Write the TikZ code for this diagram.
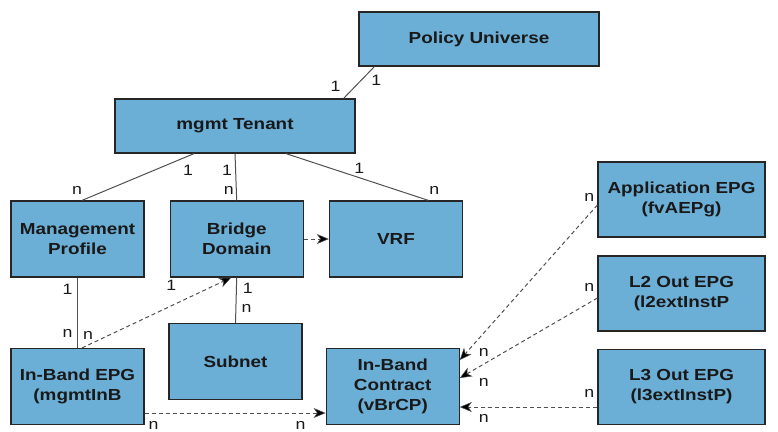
\documentclass[tikz,border=0pt]{standalone}
\usepackage{fontspec}
\setmainfont[FakeStretch=1.18]{Liberation Sans}
\usepackage{xcolor}
\usetikzlibrary{positioning, arrows.meta}
\definecolor{boxblue}{RGB}{107,174,214}
\definecolor{linegray}{RGB}{80,80,80}

\begin{document}
\begin{tikzpicture}[
        x=1pt, y=-1pt,
        node distance=25pt and 25pt,
        every node/.style={font=\fontsize{16}{20}\selectfont\bfseries, text=black!90},
        obj/.style={draw=black!85, line width=1.2pt, fill=boxblue, minimum width=133pt, minimum height=76pt, align=center, inner sep=2pt},
        top/.style={obj, minimum width=240pt, minimum height=54pt},
        epg/.style={obj, minimum width=167pt, minimum height=75pt},
        card/.style={font=\fontsize{15}{16}\selectfont, inner sep=0pt},
        link/.style={draw=linegray, line width=1pt},
        ref/.style={link, dashed, dash pattern=on 4pt off 3pt, -{Stealth[length=12pt,width=10pt,inset=3.5pt,fill=black,line width=0.5pt]}}
    ]
    \useasboundingbox (0,0) rectangle (778,431);

    % Nodes -----------------------------------------------
    \node[top] (univ)   at (479,39)  {Policy Universe};
    \node[top] (tenant) at (235,126) {mgmt Tenant};
    \node[obj] (prof)   at (77.5,239) {Management\\Profile};
    \node[obj, right=of prof] (bd)  {Bridge\\Domain};
    \node[obj, right=of bd]   (vrf) {VRF};
    \node[obj] (inb)    at (77.5,386.5) {In-Band EPG\\(mgmtInB};
    \node[obj] (subnet) at (235.5,361.5) {Subnet};
    \node[obj, right=of subnet, yshift=-25pt, xshift=-2pt] (contract) {In-Band\\Contract\\(vBrCP)};
    \node[epg] (app)    at (681.5,199.5) {Application EPG\\(fvAEPg)};
    \node[epg] (ltwo)   at (681.5,293.5) {L2 Out EPG\\(l2extInstP};
    \node[epg] (lthree) at (681.5,387)   {L3 Out EPG\\(l3extInstP)};

      % containment
      \draw[link] ([xshift=16pt]univ.south west) -- ([xshift=-12pt]tenant.north east)
          node[card, at start, shift={(2,14)}] {1}
          node[card, at end, shift={(-8,-12)}] {1};
      \draw[link] ([xshift=-41pt]tenant.south) -- ([xshift=4.5pt]prof.north)
          node[card, at start, shift={(-6,17)}] {1}
          node[card, at end, shift={(-5,-10)}] {n};
      \draw[link] (tenant.south) -- (bd.north)
          node[card, at start, shift={(-8,17)}] {1}
          node[card, at end, shift={(-8,-10)}] {n};
      \draw[link] ([xshift=51pt]tenant.south) -- ([xshift=32.5pt]vrf.north)
          node[card, pos=0.5, shift={(2,-9)}] {1}
          node[card, at end, shift={(6,-10)}] {n};
      \draw[link] (prof.south) -- (inb.north)
          node[card, at start, shift={(-10,12)}] {1}
          node[card, at end, shift={(-10,-14)}] {n};
      \draw[link] (bd.south) -- (subnet.north)
          node[card, at start, shift={(11,11)}] {1}
          node[card, at end, shift={(11,-14)}] {n};

      % references
      \draw[ref] ([xshift=4.5pt]inb.north) -- ([xshift=-5.5pt]bd.south)
          node[card, at start, shift={(6,-12)}] {n}
          node[card, at end, shift={(-60,8)}] {1};
      \draw[ref] (bd.east) -- (vrf.west);
      \draw[ref] ([yshift=-26.5pt]inb.east) -- ([yshift=-26.5pt]contract.west)
          node[card, at start, shift={(9,12)}] {n}
          node[card, at end, shift={(-25,12)}] {n};
      \draw[ref] ([yshift=-5.5pt]app.west) -- ([yshift=26.5pt]contract.east)
          node[card, at start, shift={(-8,-8)}] {n}
          node[card, at end, shift={(24,-8)}] {n};
      \draw[ref] ([yshift=-4.5pt]ltwo.west) -- ([yshift=8.5pt]contract.east)
          node[card, at start, shift={(-8,-11)}] {n}
          node[card, at end, shift={(24,4)}] {n};
      \draw[ref] ([yshift=-20pt]lthree.west) -- ([yshift=-20.5pt]contract.east)
          node[card, at start, shift={(-8,-14)}] {n}
          node[card, at end, shift={(24,11)}] {n};
    \end{tikzpicture}
\end{document}
